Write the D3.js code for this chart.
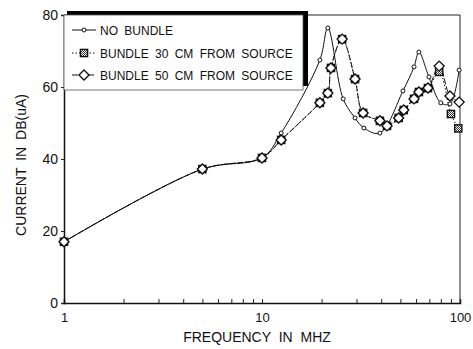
<!DOCTYPE html>
<html>
<head>
<meta charset="utf-8">
<script src="https://cdn.jsdelivr.net/npm/d3@7"></script>
<style>
  body { margin: 0; background: #fff; }
  text { font-family: "Liberation Sans", Arial, sans-serif; fill: #111; }
</style>
</head>
<body>
<script>
// frequencies in MHz, current in dB(uA)
const freqNoBundle = [1, 5, 10, 12.5, 19.6, 21.5, 25.7, 29.5, 32.7, 39.4, 51.5, 58.6, 62, 69.7, 80, 89, 99];
const valNoBundle  = [17, 37.2, 40.3, 47.2, 67.5, 76.4, 56.7, 51.4, 48.6, 47.2, 58.9, 65.6, 69.7, 62.8, 55.6, 55.3, 64.7];

const freqBundle30 = [1, 5, 10, 12.5, 19.6, 21.5, 22.3, 25.4, 29.5, 32.4, 39.4, 42.8, 49, 52, 58.6, 62, 68.9, 78.5, 90, 98];
const valBundle30  = [17, 37.2, 40.3, 45.3, 55.6, 58.3, 65.3, 73.3, 62.2, 52.8, 50.6, 49.2, 51.4, 53.6, 56.7, 58.6, 59.7, 64.2, 52.5, 48.5];

const freqBundle50 = [1, 5, 10, 12.5, 19.6, 21.5, 22.3, 25.4, 29.5, 32.4, 39.4, 42.8, 49, 52, 58.6, 62, 68.9, 78.5, 89, 99];
const valBundle50  = [17, 37.2, 40.3, 45.3, 55.6, 58.3, 65.3, 73.3, 62.2, 52.8, 50.6, 49.2, 51.4, 53.6, 56.7, 58.6, 59.7, 65.8, 57.5, 55.8];

const legendLabels = ["NO BUNDLE", "BUNDLE 30 CM FROM SOURCE", "BUNDLE 50 CM FROM SOURCE"];
const yTicks = [0, 20, 40, 60, 80];
const xTicks = [1, 10, 100];

const width = 473, height = 349;
const svg = d3.select("body").append("svg")
  .attr("width", width)
  .attr("height", height);

const x = d3.scaleLog().domain([1, 100]).range([64, 460]);
const y = d3.scaleLinear().domain([0, 80]).range([303, 15]);

// hatch for the squares
const defs = svg.append("defs");
const pat = defs.append("pattern")
  .attr("id", "hatch")
  .attr("patternUnits", "userSpaceOnUse")
  .attr("width", 2).attr("height", 2);
pat.append("rect").attr("width", 2).attr("height", 2).attr("fill", "#fff");
pat.append("rect").attr("width", 1).attr("height", 1).attr("fill", "#333");
pat.append("rect").attr("x", 1).attr("y", 1).attr("width", 1).attr("height", 1).attr("fill", "#333");

// frame (top and right)
svg.append("path")
  .attr("d", `M${x(1)},${y(80)}H${x(100)}V${y(0)}`)
  .attr("fill", "none").attr("stroke", "#222").attr("stroke-width", 1);

// axes
const xAxis = d3.axisBottom(x)
  .tickValues(d3.range(1, 10).concat(d3.range(10, 101, 10)))
  .tickSize(-4)
  .tickFormat(d => xTicks.includes(d) ? d : "");
const gx = svg.append("g").attr("transform", `translate(0,${y(0)})`).call(xAxis);
gx.select(".domain").attr("stroke", "#111").attr("stroke-width", 1.5);
gx.selectAll(".tick line").attr("stroke", "#222");
gx.selectAll(".tick text").attr("dy", "1.2em").style("font-size", "13px");

const yAxis = d3.axisLeft(y).tickValues(yTicks).tickSize(3).tickPadding(3);
const gy = svg.append("g").attr("transform", `translate(${x(1)},0)`).call(yAxis);
gy.select(".domain").attr("stroke", "#111").attr("stroke-width", 1.5);
gy.selectAll(".tick line").attr("stroke", "#222");
gy.selectAll(".tick text").style("font-size", "14px");

// axis titles
svg.append("text")
  .attr("x", 257).attr("y", 342)
  .attr("text-anchor", "middle")
  .style("font-size", "14px").style("word-spacing", "4px")
  .text("FREQUENCY IN MHZ");

svg.append("text")
  .attr("transform", `translate(26,${(y(0) + y(80)) / 2 + 6}) rotate(-90)`)
  .attr("text-anchor", "middle")
  .style("font-size", "14px").style("word-spacing", "3px")
  .text("CURRENT IN DB(uA)");

const line = d3.line().curve(d3.curveCatmullRom.alpha(0.5));

function pts(fs, vs) { return fs.map((f, i) => [x(f), y(vs[i])]); }

const sq = 3.6, dm = 5;
function drawSquare(g, cx, cy) {
  g.append("rect")
    .attr("x", cx - sq).attr("y", cy - sq)
    .attr("width", sq * 2).attr("height", sq * 2)
    .attr("fill", "url(#hatch)").attr("stroke", "#111").attr("stroke-width", 1.4);
}
function drawDiamond(g, cx, cy) {
  g.append("path")
    .attr("d", `M${cx},${cy - dm}L${cx + dm},${cy}L${cx},${cy + dm}L${cx - dm},${cy}Z`)
    .attr("fill", "#fff").attr("stroke", "#111").attr("stroke-width", 1.4);
}
function drawCircle(g, cx, cy) {
  g.append("circle").attr("cx", cx).attr("cy", cy).attr("r", 2)
    .attr("fill", "#fff").attr("stroke", "#111").attr("stroke-width", 1);
}

const p1 = pts(freqNoBundle, valNoBundle);
const p2 = pts(freqBundle30, valBundle30);
const p3 = pts(freqBundle50, valBundle50);

svg.append("path").attr("d", line(p1))
  .attr("fill", "none").attr("stroke", "#111").attr("stroke-width", 1);
svg.append("path").attr("d", line(p2))
  .attr("fill", "none").attr("stroke", "#111").attr("stroke-width", 1)
  .attr("stroke-dasharray", "1.5,2");
svg.append("path").attr("d", line(p3))
  .attr("fill", "none").attr("stroke", "#111").attr("stroke-width", 1)
  .attr("stroke-dasharray", "6,2");

const gm = svg.append("g");
p1.forEach(p => drawCircle(gm, p[0], p[1]));
p2.forEach(p => drawSquare(gm, p[0], p[1]));
p3.forEach(p => drawDiamond(gm, p[0], p[1]));

// legend with shadow offset up-right
const lg = svg.append("g");
lg.append("rect").attr("x", 67).attr("y", 11).attr("width", 241).attr("height", 75).attr("fill", "#000");
lg.append("rect").attr("x", 64).attr("y", 15).attr("width", 239).attr("height", 75)
  .attr("fill", "#fff").attr("stroke", "#555").attr("stroke-width", 0.8);

const rowsY = [30, 53, 75];
const dashes = [null, "1.5,2", "6,2"];
legendLabels.forEach((lab, i) => {
  const ry = rowsY[i];
  lg.append("line").attr("x1", 72).attr("x2", 96).attr("y1", ry).attr("y2", ry)
    .attr("stroke", "#111").attr("stroke-width", 1)
    .attr("stroke-dasharray", dashes[i]);
  if (i === 0) drawCircle(lg, 84, ry);
  if (i === 1) drawSquare(lg, 84, ry);
  if (i === 2) drawDiamond(lg, 84, ry);
  lg.append("text").attr("x", 100).attr("y", ry + 5)
    .style("font-size", "12px").style("word-spacing", "3px")
    .text(lab);
});
</script>
</body>
</html>
